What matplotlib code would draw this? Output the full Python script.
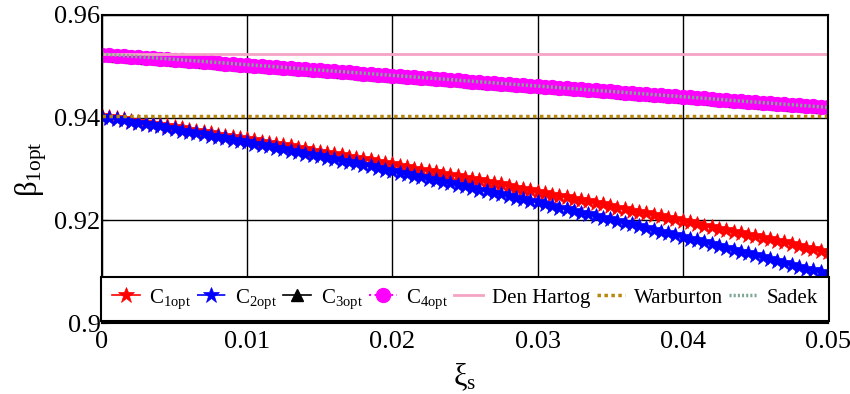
import matplotlib
matplotlib.use("Agg")
import matplotlib.pyplot as plt
import numpy as np

plt.rcParams.update({"font.family": "Liberation Serif", "mathtext.fontset": "custom",
                     "mathtext.rm": "Liberation Serif", "mathtext.it": "Liberation Serif",
                     "font.size": 18})

# structural damping ratio, 101 samples over 0..0.05
xi_s = [i * 0.0005 for i in range(101)]

c1_opt = [0.9403, 0.9401, 0.9399, 0.9397, 0.9394, 0.9392, 0.9390, 0.9388, 0.9385, 0.9383,
          0.9381, 0.9379, 0.9376, 0.9374, 0.9372, 0.9370, 0.9367, 0.9365, 0.9363, 0.9360,
          0.9358, 0.9356, 0.9353, 0.9351, 0.9349, 0.9346, 0.9344, 0.9341, 0.9339, 0.9336,
          0.9334, 0.9332, 0.9329, 0.9327, 0.9324, 0.9322, 0.9319, 0.9317, 0.9314, 0.9312,
          0.9309, 0.9306, 0.9304, 0.9301, 0.9299, 0.9296, 0.9294, 0.9291, 0.9288, 0.9286,
          0.9283, 0.9280, 0.9278, 0.9275, 0.9272, 0.9270, 0.9267, 0.9264, 0.9261, 0.9259,
          0.9256, 0.9253, 0.9250, 0.9248, 0.9245, 0.9242, 0.9239, 0.9237, 0.9234, 0.9231,
          0.9228, 0.9225, 0.9222, 0.9219, 0.9217, 0.9214, 0.9211, 0.9208, 0.9205, 0.9202,
          0.9199, 0.9196, 0.9193, 0.9190, 0.9187, 0.9184, 0.9181, 0.9178, 0.9175, 0.9172,
          0.9169, 0.9166, 0.9163, 0.9160, 0.9157, 0.9154, 0.9151, 0.9147, 0.9144, 0.9141,
          0.9138]

c2_opt = [0.9402, 0.9400, 0.9397, 0.9395, 0.9392, 0.9390, 0.9388, 0.9385, 0.9383, 0.9380,
          0.9378, 0.9375, 0.9373, 0.9370, 0.9368, 0.9365, 0.9362, 0.9360, 0.9357, 0.9355,
          0.9352, 0.9349, 0.9347, 0.9344, 0.9341, 0.9339, 0.9336, 0.9333, 0.9330, 0.9328,
          0.9325, 0.9322, 0.9319, 0.9316, 0.9314, 0.9311, 0.9308, 0.9305, 0.9302, 0.9299,
          0.9296, 0.9293, 0.9290, 0.9287, 0.9284, 0.9281, 0.9278, 0.9275, 0.9272, 0.9269,
          0.9266, 0.9263, 0.9260, 0.9257, 0.9254, 0.9251, 0.9248, 0.9244, 0.9241, 0.9238,
          0.9235, 0.9232, 0.9228, 0.9225, 0.9222, 0.9219, 0.9215, 0.9212, 0.9209, 0.9205,
          0.9202, 0.9199, 0.9195, 0.9192, 0.9189, 0.9185, 0.9182, 0.9178, 0.9175, 0.9171,
          0.9168, 0.9164, 0.9161, 0.9157, 0.9154, 0.9150, 0.9147, 0.9143, 0.9139, 0.9136,
          0.9132, 0.9128, 0.9125, 0.9121, 0.9117, 0.9114, 0.9110, 0.9106, 0.9103, 0.9099,
          0.9095]

c3_opt = [0.9523, 0.9522, 0.9521, 0.9520, 0.9519, 0.9518, 0.9517, 0.9516, 0.9515, 0.9514,
          0.9513, 0.9512, 0.9511, 0.9510, 0.9509, 0.9508, 0.9507, 0.9505, 0.9504, 0.9503,
          0.9502, 0.9501, 0.9500, 0.9499, 0.9498, 0.9497, 0.9496, 0.9495, 0.9494, 0.9493,
          0.9492, 0.9491, 0.9490, 0.9489, 0.9488, 0.9487, 0.9486, 0.9485, 0.9484, 0.9483,
          0.9482, 0.9481, 0.9480, 0.9479, 0.9478, 0.9477, 0.9476, 0.9475, 0.9474, 0.9473,
          0.9471, 0.9470, 0.9469, 0.9468, 0.9467, 0.9466, 0.9465, 0.9464, 0.9463, 0.9462,
          0.9461, 0.9460, 0.9459, 0.9458, 0.9457, 0.9456, 0.9455, 0.9454, 0.9453, 0.9452,
          0.9451, 0.9450, 0.9449, 0.9448, 0.9447, 0.9446, 0.9445, 0.9444, 0.9443, 0.9442,
          0.9441, 0.9440, 0.9439, 0.9438, 0.9436, 0.9435, 0.9434, 0.9433, 0.9432, 0.9431,
          0.9430, 0.9429, 0.9428, 0.9427, 0.9426, 0.9425, 0.9424, 0.9423, 0.9422, 0.9421,
          0.9420]
# C4 lies on top of C3 in the picture
c4_opt = list(c3_opt)

ref_xi = [0.0, 0.05]
den_hartog = [0.9524, 0.9524]
warburton = [0.9404, 0.9404]
sadek = [0.9524, 0.9420]

xticks = [0, 0.01, 0.02, 0.03, 0.04, 0.05]
xtick_labels = ["0", "0.01", "0.02", "0.03", "0.04", "0.05"]
yticks = [0.90, 0.92, 0.94, 0.96]
ytick_labels = ["0.9", "0.92", "0.94", "0.96"]

fig = plt.figure(figsize=(8.5, 3.94), dpi=100)
ax = fig.add_axes([0.12, 0.18, 0.854, 0.782])

ax.plot(xi_s, c1_opt, "-", color="red", marker="*", ms=12, mew=0.5, lw=1.2, label=r"C$_{\mathrm{1opt}}$")
ax.plot(xi_s, c2_opt, "-.", color="blue", marker="*", ms=12, mew=0.5, lw=1.2, label=r"C$_{\mathrm{2opt}}$")
ax.plot(xi_s, c3_opt, "-", color="black", marker="^", ms=9, lw=1.2, label=r"C$_{\mathrm{3opt}}$")
ax.plot(xi_s, c4_opt, ":", color="magenta", marker="o", ms=10, lw=1.5, label=r"C$_{\mathrm{4opt}}$")
ax.plot(ref_xi, den_hartog, "-", color="#f4a3c4", lw=2, label="Den Hartog")
ax.plot(ref_xi, warburton, ls=(0, (1, 1)), color="#b8860b", lw=2.5, label="Warburton")
ax.plot(ref_xi, sadek, ls=(0, (0.6, 0.6)), color="#7fa894", lw=2.5, label="Sadek")

ax.set_xlim(0, 0.05)
ax.set_ylim(0.9, 0.96)
ax.set_xticks(xticks)
ax.set_xticklabels(xtick_labels)
ax.set_yticks(yticks)
ax.set_yticklabels(ytick_labels)
ax.tick_params(direction="in", length=4, labelsize=19, pad=1)
ax.tick_params(axis="x", pad=6)
ax.grid(True, color="black", lw=1)
for s in ax.spines.values():
    s.set_linewidth(1.5)

ax.set_xlabel(r"$\mathrm{ξ}_{\mathrm{s}}$", fontsize=22, labelpad=6)
ax.set_ylabel(r"$\mathrm{β}_{\mathrm{1opt}}$", fontsize=22, labelpad=4)

leg = ax.legend(loc="lower center", ncol=7, fontsize=15, frameon=True, fancybox=False,
                edgecolor="black", framealpha=1, handlelength=1.35, handletextpad=0.45,
                columnspacing=0.3, borderpad=0.5, borderaxespad=0.1)
leg.get_frame().set_linewidth(1.5)

fig.savefig("out.png", dpi=100)
